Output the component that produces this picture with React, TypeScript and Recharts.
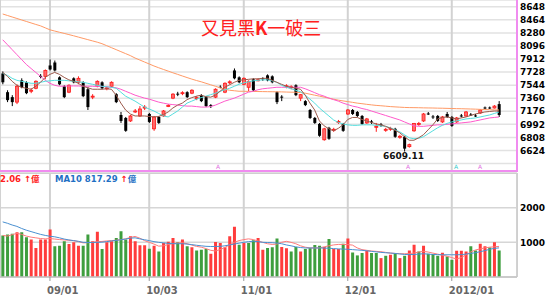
import React from 'react';
import { ComposedChart, Bar, Line, XAxis, YAxis, CartesianGrid, Cell } from 'recharts';

// daily candles, index 0 = first visible trading day
const OPEN = [
  7709, 7445, 7375, 7305, 7612, 7584, 7458, 7500, 7675, 7668,
  7821, 7863, 7654, 7528, 7445, 7640, 7584, 7584, 7486, 7375,
  7528, 7584, 7494, 7528, 7417, 7124, 7082, 7040, 7166, 7110,
  7222, 7138, 6929, 7096, 7110, 7243, 7361, 7424, 7424, 7445,
  7431, 7354, 7403, 7375, 7263, 7375, 7521, 7445, 7577, 7751,
  7654, 7556, 7514, 7626, 7605, 7640, 7682, 7668, 7445, 7382,
  7521, 7507, 7542, 7361, 7319, 7194, 7082, 6998, 6775, 6943,
  6908, 7019, 6998, 7138, 7194, 7166, 7110, 7012, 7033, 6950,
  6992, 6908, 6922, 6929, 6810, 6817, 6678, 6901, 6990, 7040,
  7145, 7103, 7110, 7026, 7138, 7096, 7026, 7117, 7110, 7131,
  7117, 7152, 7229, 7229, 7222, 7277,
];
const HIGH = [
  7737, 7472, 7403, 7556, 7640, 7598, 7500, 7612, 7700, 7765,
  7905, 7891, 7668, 7542, 7556, 7654, 7668, 7598, 7514, 7417,
  7612, 7598, 7528, 7598, 7431, 7166, 7096, 7124, 7208, 7249,
  7263, 7152, 7110, 7110, 7194, 7277, 7431, 7450, 7458, 7458,
  7486, 7389, 7417, 7389, 7277, 7500, 7542, 7584, 7612, 7779,
  7668, 7654, 7612, 7640, 7640, 7654, 7696, 7682, 7458, 7403,
  7556, 7542, 7556, 7417, 7333, 7208, 7096, 7012, 6943, 6957,
  6943, 7054, 7012, 7208, 7208, 7180, 7124, 7082, 7054, 7012,
  7012, 6943, 6957, 6943, 6845, 6831, 6720, 7012, 7026, 7152,
  7166, 7124, 7124, 7110, 7166, 7110, 7096, 7138, 7180, 7152,
  7138, 7208, 7243, 7243, 7263, 7319,
];
const LOW = [
  7556, 7305, 7249, 7277, 7500, 7417, 7431, 7486, 7640, 7626,
  7751, 7737, 7542, 7361, 7431, 7570, 7556, 7375, 7194, 7347,
  7514, 7486, 7472, 7514, 7291, 7012, 6887, 7026, 7152, 7096,
  7194, 7012, 6901, 6998, 7096, 7235, 7347, 7389, 7403, 7361,
  7417, 7333, 7305, 7235, 7222, 7361, 7500, 7431, 7556, 7626,
  7570, 7542, 7458, 7458, 7598, 7605, 7598, 7570, 7277, 7319,
  7500, 7486, 7389, 7319, 7249, 7068, 6998, 6817, 6762, 6775,
  6887, 6998, 6887, 7124, 7124, 7096, 6985, 6998, 6998, 6887,
  6957, 6887, 6901, 6803, 6789, 6609.11, 6664, 6887, 6971, 7026,
  7124, 7068, 7026, 7012, 7082, 6957, 7012, 7089, 7096, 7110,
  7096, 7138, 7208, 7208, 7215, 7096,
];
const CLOSE = [
  7584, 7333, 7305, 7528, 7514, 7431, 7472, 7598, 7662, 7751,
  7765, 7751, 7556, 7375, 7542, 7584, 7640, 7389, 7235, 7389,
  7598, 7500, 7506, 7584, 7305, 7040, 6901, 7110, 7180, 7208,
  7235, 7026, 7096, 7012, 7180, 7256, 7417, 7410, 7438, 7375,
  7472, 7368, 7319, 7249, 7256, 7486, 7507, 7570, 7591, 7640,
  7584, 7640, 7598, 7472, 7619, 7626, 7612, 7584, 7305, 7368,
  7535, 7521, 7403, 7410, 7263, 7082, 7012, 6831, 6929, 6789,
  6922, 7033, 6901, 7194, 7138, 7110, 6998, 7068, 7019, 6964,
  6978, 6922, 6936, 6817, 6824, 6650, 6706, 7005, 7003, 7138,
  7131, 7089, 7040, 7096, 7096, 6971, 7082, 7103, 7166, 7117,
  7103, 7194, 7215, 7215, 7249, 7124,
];
const PREV_CLOSE = 7700;

// volume in 億
const VOLUME = [
  1195, 1224, 1245, 1292, 1292, 1146, 1079, 836, 1079, 1079,
  1370, 884, 904, 1030, 953, 1001, 904, 904, 1224, 1030,
  1302, 807, 1001, 1030, 1127, 1322, 1079, 1175, 1030, 914,
  914, 816, 904, 739, 982, 1020, 1127, 1001, 1079, 884,
  855, 768, 787, 807, 671, 1010, 982, 855, 1175, 1448,
  933, 982, 982, 1059, 1127, 787, 836, 855, 1107, 865,
  826, 739, 865, 739, 807, 836, 923, 904, 865, 1098,
  807, 807, 962, 1107, 710, 623, 691, 768, 691, 691,
  545, 612, 642, 671, 545, 612, 768, 933, 739, 900,
  671, 661, 612, 700, 593, 496, 758, 758, 739, 884,
  768, 962, 884, 850, 1001, 768,
];

const MA5 = [
  7723, 7668, 7598, 7542, 7514, 7500, 7486, 7528, 7584, 7654,
  7696, 7723, 7696, 7654, 7619, 7598, 7570, 7528, 7507, 7486,
  7486, 7486, 7493, 7486, 7403, 7291, 7194, 7138, 7110, 7110,
  7110, 7103, 7096, 7103, 7131, 7166, 7222, 7263, 7291, 7340,
  7368, 7389, 7403, 7382, 7375, 7403, 7458, 7514, 7549, 7584,
  7612, 7619, 7626, 7633, 7633, 7640, 7640, 7612, 7584, 7556,
  7528, 7514, 7500, 7486, 7403, 7291, 7194, 7040, 6971, 6929,
  6901, 6936, 6985, 7061, 7089, 7089, 7061, 7040, 7019, 6998,
  6985, 6964, 6936, 6908, 6873, 6817, 6768, 6768, 6803, 6845,
  6915, 6985, 7068, 7089, 7096, 7082, 7068, 7082, 7096, 7117,
  7138, 7152, 7166, 7173, 7180, 7180,
];
const MA10 = [
  7709, 7682, 7640, 7612, 7598, 7584, 7570, 7570, 7584, 7598,
  7605, 7612, 7612, 7612, 7605, 7598, 7591, 7584, 7570, 7556,
  7542, 7528, 7521, 7514, 7500, 7445, 7389, 7354, 7319, 7277,
  7235, 7208, 7180, 7145, 7110, 7096, 7138, 7180, 7235, 7291,
  7319, 7347, 7368, 7389, 7410, 7431, 7458, 7479, 7500, 7528,
  7556, 7577, 7591, 7605, 7612, 7619, 7619, 7605, 7584, 7542,
  7514, 7493, 7472, 7452, 7403, 7347, 7291, 7222, 7166, 7110,
  7054, 7019, 6998, 6985, 6978, 6978, 6985, 6985, 6985, 6978,
  6971, 6964, 6943, 6915, 6887, 6845, 6803, 6789, 6796, 6817,
  6859, 6901, 6943, 6978, 7005, 7026, 7040, 7054, 7068, 7075,
  7082, 7096, 7110, 7124, 7145, 7166,
];
const MA20 = [
  8183, 8114, 8044, 7974, 7905, 7835, 7779, 7723, 7668, 7612,
  7570, 7542, 7528, 7530, 7532, 7533, 7532, 7530, 7528, 7528,
  7527, 7526, 7521, 7514, 7507, 7486, 7458, 7431, 7403, 7382,
  7361, 7347, 7326, 7305, 7291, 7277, 7270, 7263, 7256, 7249,
  7249, 7242, 7235, 7235, 7242, 7263, 7291, 7319, 7340, 7361,
  7389, 7417, 7445, 7458, 7479, 7493, 7500, 7507, 7514, 7514,
  7514, 7514, 7514, 7514, 7493, 7466, 7438, 7410, 7389, 7361,
  7340, 7319, 7291, 7270, 7249, 7235, 7215, 7201, 7180, 7159,
  7138, 7117, 7096, 7075, 7054, 7026, 6998, 6971, 6964, 6964,
  6971, 6978, 6985, 6985, 6992, 6998, 7005, 7012, 7019, 7026,
  7040, 7054, 7068, 7082, 7089, 7096,
];
const MA60 = [
  8546, 8525, 8504, 8483, 8462, 8441, 8420, 8399, 8379, 8351,
  8323, 8306, 8289, 8273, 8256, 8239, 8221, 8203, 8185, 8167,
  8149, 8128, 8100, 8072, 8044, 8016, 7988, 7960, 7926, 7898,
  7870, 7842, 7814, 7789, 7765, 7742, 7718, 7696, 7673, 7651,
  7629, 7609, 7591, 7570, 7549, 7528, 7507, 7486, 7472, 7465,
  7458, 7458, 7456, 7455, 7454, 7453, 7452, 7451, 7450, 7449,
  7447, 7445, 7444, 7440, 7431, 7417, 7403, 7389, 7375, 7361,
  7347, 7333, 7322, 7312, 7302, 7291, 7283, 7274, 7266, 7259,
  7254, 7248, 7242, 7238, 7234, 7230, 7228, 7227, 7226, 7224,
  7223, 7222, 7220, 7219, 7217, 7215, 7213, 7212, 7210, 7208,
  7206, 7203, 7201, 7198, 7196, 7194,
];
const VMA5 = [
  1200, 1180, 1220, 1260, 1230, 1180, 1150, 1130, 1110, 1100,
  1108, 1095, 1080, 1070, 1060, 1050, 1020, 985, 990, 1000,
  1020, 1025, 1040, 1050, 1060, 1079, 1100, 1140, 1170, 1120,
  1050, 1000, 950, 890, 900, 935, 962, 980, 990, 960,
  920, 883, 860, 820, 770, 750, 790, 850, 930, 1000,
  1050, 1079, 1100, 1080, 1040, 1000, 960, 940, 950, 1000,
  1029, 1000, 960, 900, 860, 840, 837, 840, 870, 900,
  925, 940, 940, 935, 920, 840, 790, 770, 750, 740,
  730, 710, 690, 680, 671, 671, 675, 690, 720, 740,
  720, 690, 660, 630, 600, 560, 520, 560, 640, 720,
  780, 810, 840, 860, 870, 883,
];
const VMA10 = [
  1590, 1550, 1500, 1460, 1400, 1350, 1310, 1270, 1230, 1200,
  1175, 1160, 1130, 1095, 1070, 1050, 1030, 1000, 995, 995,
  1000, 1005, 1020, 1040, 1055, 1075, 1095, 1120, 1130, 1100,
  1075, 1050, 1020, 1000, 985, 970, 962, 960, 960, 950,
  935, 915, 900, 885, 880, 880, 883, 900, 925, 950,
  975, 1000, 1020, 1029, 1020, 1000, 995, 990, 980, 960,
  925, 900, 870, 850, 837, 837, 837, 837, 835, 830,
  820, 810, 805, 800, 790, 780, 770, 755, 740, 725,
  710, 700, 691, 680, 665, 650, 645, 650, 660, 671,
  660, 650, 645, 641, 641, 641, 641, 645, 660, 680,
  700, 730, 760, 800, 825, 840,
];

const TICK_IDX = [10, 31, 51, 73, 95];
const TICK_LABELS = ['09/01', '10/03', '11/01', '12/01', '2012/01'];
const PRICE_TICKS = [6440, 6624, 6808, 6992, 7176, 7360, 7544, 7728, 7912, 8096, 8280, 8464, 8648];
const VOL_TICKS = [1000, 2000, 3000];

const X_DOMAIN: [number, number] = [-0.57, 108.8];
const PRICE_DOMAIN: [number, number] = [6335, 8743];
const VOL_DOMAIN: [number, number] = [0, 3000];

const rows = OPEN.map((open, i) => ({
  i,
  open,
  close: CLOSE[i],
  range: [LOW[i], HIGH[i]],
  ma5: MA5[i],
  ma10: MA10[i],
  ma20: MA20[i],
  ma60: MA60[i],
  vol: VOLUME[i],
  vma5: VMA5[i],
  vma10: VMA10[i],
  volUp: CLOSE[i] > (i === 0 ? PREV_CLOSE : CLOSE[i - 1]),
}));

const FONT = '"DejaVu Sans", "Noto Sans CJK TC", sans-serif';
const axisTick = { fontSize: 9, fontWeight: 'bold', fill: '#000', fontFamily: FONT };

function Candle(props: any) {
  const { x, y, width, height, payload } = props;
  const [low, high] = payload.range;
  const top = Math.min(y, y + height);
  const h = Math.abs(height);
  const ppu = high > low ? h / (high - low) : 0;
  const bodyTop = top + (high - Math.max(payload.open, payload.close)) * ppu;
  const bodyBot = top + (high - Math.min(payload.open, payload.close)) * ppu;
  const up = payload.close > payload.open;
  const color = up ? '#ff1a1a' : '#000';
  const cx = x + width / 2;
  return (
    <g>
      <line x1={cx} x2={cx} y1={top} y2={top + h} stroke={color} strokeWidth={1} />
      <rect
        x={x}
        y={bodyTop}
        width={width}
        height={Math.max(1, bodyBot - bodyTop)}
        fill={up ? '#ff6a6a' : '#000'}
        stroke={up ? '#ff1a1a' : 'none'}
        strokeWidth={0.8}
      />
    </g>
  );
}

function DateTick(props: any) {
  const { x, y, payload } = props;
  const label = TICK_LABELS[TICK_IDX.indexOf(payload.value)];
  return (
    <text x={x - 3} y={y} dy="0.71em" fill="#666" fontSize={10} fontWeight="bold" fontFamily={FONT}>
      {label}
    </text>
  );
}

const abs = (style: React.CSSProperties): React.CSSProperties => ({ position: 'absolute', ...style });

const maLine = (key: string, color: string) => (
  <Line
    dataKey={key}
    stroke={color}
    strokeWidth={1}
    dot={false}
    activeDot={false}
    legendType="none"
    isAnimationActive={false}
  />
);

export default function App() {
  return (
    <div style={abs({ left: 0, top: 0, width: 550, height: 296, overflow: 'hidden', background: '#fff', fontFamily: FONT })}>
      <div style={abs({ left: 0, top: 0 })}>
        <ComposedChart width={550} height={171} data={rows} margin={{ top: 0, right: 0, bottom: 0, left: 0 }}>
          <CartesianGrid vertical={false} stroke="#e2e2e2" strokeWidth={1.5} />
          <CartesianGrid horizontal={false} stroke="#d2d2d2" strokeWidth={2} />
          <XAxis type="number" dataKey="i" domain={X_DOMAIN} ticks={TICK_IDX} hide />
          <YAxis
            orientation="right"
            width={33}
            domain={PRICE_DOMAIN}
            ticks={PRICE_TICKS}
            interval={0}
            allowDataOverflow
            axisLine={false}
            tickLine={false}
            tickSize={0}
            tickMargin={3}
            tick={axisTick}
            tickFormatter={(v: number) => (v === 6440 ? '' : String(v))}
          />
          {maLine('ma60', '#ff9a66')}
          {maLine('ma20', '#ff5acb')}
          {maLine('ma10', '#55dede')}
          {maLine('ma5', '#9c5a4c')}
          <Bar dataKey="range" barSize={3} shape={Candle} isAnimationActive={false} />
        </ComposedChart>
      </div>

      <div style={abs({ left: 0, top: 172 })}>
        <ComposedChart width={550} height={124} data={rows} margin={{ top: 1, right: 0, bottom: 0, left: 0 }}>
          <CartesianGrid vertical={false} stroke="#d6d6d6" strokeWidth={1.5} />
          <CartesianGrid horizontal={false} stroke="#d2d2d2" strokeWidth={2} />
          <XAxis
            type="number"
            dataKey="i"
            domain={X_DOMAIN}
            ticks={TICK_IDX}
            interval={0}
            height={19}
            axisLine={{ stroke: '#c4c4c4', strokeWidth: 1.5 }}
            tickLine={{ stroke: '#999' }}
            tickSize={4}
            tickMargin={6}
            tick={DateTick}
          />
          <YAxis
            orientation="right"
            width={33}
            domain={VOL_DOMAIN}
            ticks={VOL_TICKS}
            interval={0}
            allowDataOverflow
            axisLine={false}
            tickLine={false}
            tickSize={0}
            tickMargin={3}
            tick={axisTick}
            tickFormatter={(v: number) => (v === 3000 ? '' : String(v))}
          />
          <Bar dataKey="vol" barSize={3} isAnimationActive={false}>
            {rows.map((r) => (
              <Cell key={r.i} fill={r.volUp ? '#ff3c3c' : '#3e9e3e'} />
            ))}
          </Bar>
          {maLine('vma5', '#ff7a7a')}
          {maLine('vma10', '#4a90d0')}
        </ComposedChart>
      </div>

      {/* panel borders */}
      <div style={abs({ left: 0, top: 170, width: 518, height: 2, background: '#f08cf0' })} />
      <div style={abs({ left: 516, top: 0, width: 2, height: 172, background: '#f08cf0' })} />
      <div style={abs({ left: 0, top: 172.5, width: 518, height: 1.5, background: '#cfcfcf' })} />
      <div style={abs({ left: 516.5, top: 173, width: 1.5, height: 104, background: '#cfcfcf' })} />

      {/* title */}
      <div style={abs({ left: 201, top: 17, fontSize: 18, lineHeight: '20px', color: '#ff2020', fontFamily: '"Noto Sans CJK TC", sans-serif', whiteSpace: 'nowrap' })}>
        又見黑<span style={{ fontWeight: 'bold' }}>K</span>一破三
      </div>

      {/* low label */}
      <div style={abs({ left: 383, top: 150.5, fontSize: 9, lineHeight: '10px', fontWeight: 'bold', color: '#111', whiteSpace: 'nowrap' })}>
        6609.11
      </div>

      {/* signal markers */}
      <div style={abs({ left: 216, top: 164, fontSize: 6, lineHeight: '6px', color: '#e070e0' })}>A</div>
      <div style={abs({ left: 406, top: 164, fontSize: 6, lineHeight: '6px', color: '#e070e0' })}>A</div>
      <div style={abs({ left: 454, top: 164, fontSize: 6, lineHeight: '6px', color: '#33cccc' })}>A</div>
      <div style={abs({ left: 478, top: 164, fontSize: 6, lineHeight: '6px', color: '#e070e0' })}>A</div>

      {/* volume legend */}
      <div style={abs({ left: 0, top: 174, fontSize: 8.5, lineHeight: '10px', fontWeight: 'bold', color: '#ff2020', whiteSpace: 'nowrap' })}>
        2.06 ↑億
      </div>
      <div style={abs({ left: 55, top: 174, fontSize: 8.5, lineHeight: '10px', fontWeight: 'bold', color: '#1f70c4', whiteSpace: 'nowrap' })}>
        MA10 817.29 <span style={{ color: '#ff2020' }}>↑</span>億
      </div>
    </div>
  );
}
